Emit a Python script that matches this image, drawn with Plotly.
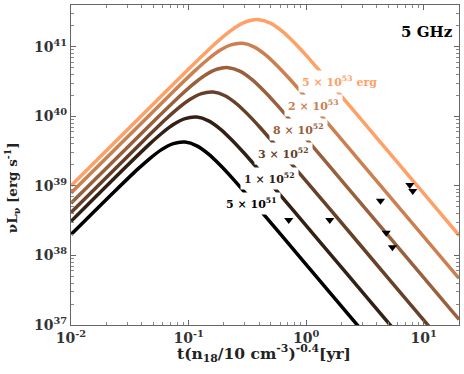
import numpy as np
import plotly.graph_objects as go

# light curves at 5 GHz (log10 t [yr], log10 nuL_nu [erg/s])
labels = ["5 × 10<sup>51</sup>", "1 × 10<sup>52</sup>", "3 × 10<sup>52</sup>",
          "8 × 10<sup>52</sup>", "2 × 10<sup>53</sup>", "5 × 10<sup>53</sup> erg"]

logt_5e51 = [-2.0, -1.63, -1.43, -1.33, -1.23, -1.13, -1.03, -0.93, -0.83, -0.73, -0.63, -0.43, -0.03, 0.47, 0.6]
logL_5e51 = [38.30, 38.919, 39.244, 39.393, 39.521, 39.607, 39.629, 39.575, 39.457, 39.297, 39.116, 38.727, 37.93, 36.93, 36.67]

logt_1e52 = [-2.0, -1.53, -1.33, -1.23, -1.13, -1.03, -0.93, -0.83, -0.73, -0.63, -0.53, -0.33, 0.07, 0.57, 1.3]
logL_1e52 = [38.49, 39.279, 39.604, 39.753, 39.881, 39.967, 39.989, 39.935, 39.817, 39.657, 39.476, 39.087, 38.29, 37.29, 35.83]

logt_3e52 = [-2.0, -1.39, -1.19, -1.09, -0.99, -0.89, -0.79, -0.69, -0.59, -0.49, -0.39, -0.19, 0.21, 0.71, 1.3]
logL_3e52 = [38.617, 39.639, 39.964, 40.113, 40.241, 40.327, 40.349, 40.295, 40.177, 40.017, 39.836, 39.447, 38.65, 37.65, 36.47]

logt_8e52 = [-2.0, -1.26, -1.06, -0.96, -0.86, -0.76, -0.66, -0.56, -0.46, -0.36, -0.26, -0.06, 0.34, 0.84, 1.3]
logL_8e52 = [38.749, 39.989, 40.314, 40.463, 40.591, 40.677, 40.699, 40.645, 40.527, 40.367, 40.186, 39.797, 39.0, 38.0, 37.08]

logt_2e53 = [-2.0, -1.14, -0.94, -0.84, -0.74, -0.64, -0.54, -0.44, -0.34, -0.24, -0.14, 0.06, 0.46, 0.96, 1.3]
logL_2e53 = [38.897, 40.339, 40.664, 40.813, 40.941, 41.027, 41.049, 40.995, 40.877, 40.717, 40.536, 40.147, 39.35, 38.35, 37.67]

logt_5e53 = [-2.0, -1.0, -0.8, -0.7, -0.6, -0.5, -0.4, -0.3, -0.2, -0.1, 0.0, 0.2, 0.6, 1.1, 1.3]
logL_5e53 = [39.002, 40.679, 41.004, 41.153, 41.281, 41.367, 41.389, 41.335, 41.217, 41.057, 40.876, 40.487, 39.69, 38.69, 38.29]

# upper limits
lim_logt = [-0.148, 0.201, 0.632, 0.681, 0.734, 0.882, 0.907]
lim_logL = [38.509, 38.509, 38.786, 38.326, 38.116, 39.011, 38.925]

x_ticks = [-2, -1, 0, 1]
y_ticks = [37, 38, 39, 40, 41]

colors = ["#000000", "#332014", "#664029", "#99603d", "#cc8051", "#ffa066"]

curves = [(logt_5e51, logL_5e51), (logt_1e52, logL_1e52), (logt_3e52, logL_3e52),
          (logt_8e52, logL_8e52), (logt_2e53, logL_2e53), (logt_5e53, logL_5e53)]

# label positions (x in log t, y in log L)
lab_x = [-0.465, -0.31, -0.19, -0.065, 0.06, 0.28]
lab_y = [38.75, 39.10, 39.46, 39.81, 40.16, 40.50]

SERIF = "DejaVu Serif"

fig = go.Figure()
for (lt, lL), c in zip(curves, colors):
    fig.add_trace(go.Scatter(
        x=10 ** np.array(lt), y=10 ** np.array(lL), mode="lines",
        line=dict(color=c, width=3.5, shape="spline", smoothing=0.8),
        showlegend=False, hoverinfo="skip"))

fig.add_trace(go.Scatter(
    x=10 ** np.array(lim_logt), y=10 ** np.array(lim_logL), mode="markers",
    marker=dict(symbol="triangle-down", color="black", size=8),
    showlegend=False))

for txt, c, lx, ly in zip(labels, colors, lab_x, lab_y):
    fig.add_annotation(x=lx, y=ly, xref="x", yref="y", text="<b>" + txt + "</b>",
                       showarrow=False, bgcolor="white", borderpad=3,
                       font=dict(family=SERIF, size=11, color=c))

fig.add_annotation(x=0.918, y=0.916, xref="paper", yref="paper", text="<b>5 GHz</b>",
                   xanchor="center", yanchor="middle",
                   showarrow=False, font=dict(family=SERIF, size=15, color="black"))

fig.add_annotation(x=-0.15, y=0.43, xref="paper", yref="paper", textangle=-90,
                   xanchor="center", yanchor="middle",
                   text="<b>νL<sub>ν</sub> [erg s<sup>-1</sup>]</b>",
                   showarrow=False, font=dict(family=SERIF, size=13.5, color="#222"))
fig.add_annotation(x=0.498, y=-0.09, xref="paper", yref="paper",
                   xanchor="center", yanchor="middle",
                   text="<b>t(n<sub>18</sub>/10 cm<sup>-3</sup>)<sup>-0.4</sup>[yr]</b>",
                   showarrow=False, font=dict(family=SERIF, size=15.5, color="#222"))

minor_vals = [m * 10.0 ** e for e in range(-3, 43) for m in range(2, 10)]

axis_common = dict(
    type="log", automargin=False,
    ticks="inside", ticklen=5, tickcolor="#666", mirror="allticks",
    showline=True, linecolor="#666", linewidth=1.2, showgrid=False, zeroline=False,
    tickfont=dict(family=SERIF, size=14, color="#333", weight="bold"),
    minor=dict(ticks="inside", ticklen=2.5, tickcolor="#888", showgrid=False,
               tickvals=minor_vals),
)

fig.update_xaxes(range=[-2, 1.3], tickvals=[10.0 ** v for v in x_ticks],
                 ticktext=["10<sup>%d</sup>" % v for v in x_ticks], **axis_common)
fig.update_yaxes(range=[37, 41.6], tickvals=[10.0 ** v for v in y_ticks],
                 ticktext=["10<sup>%d</sup>" % v for v in y_ticks], **axis_common)

fig.update_layout(
    width=464, height=374,
    margin=dict(l=71, r=5, t=5, b=49),
    plot_bgcolor="white", paper_bgcolor="white",
)

fig.write_html("out.html", config={"displayModeBar": False},
               post_script="document.body.style.margin='0';")
